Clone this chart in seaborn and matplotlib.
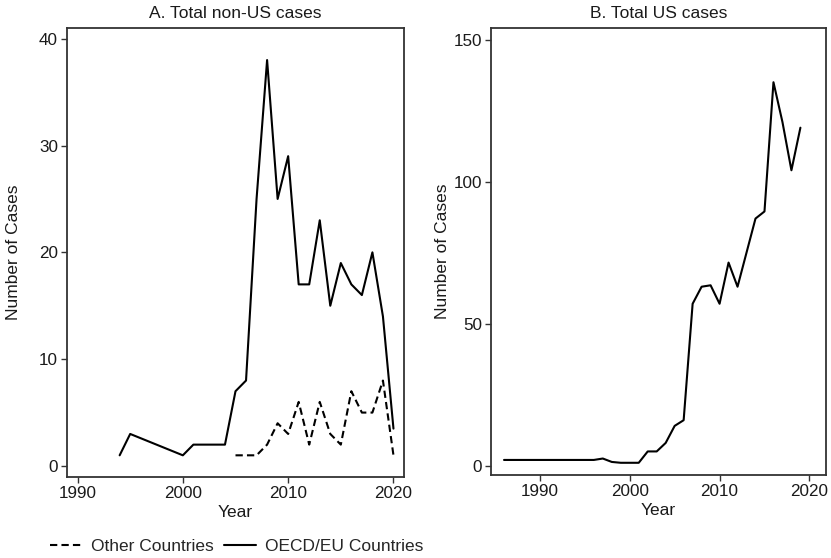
import matplotlib
matplotlib.use("Agg")
import matplotlib.pyplot as plt
import seaborn as sns
import pandas as pd
from matplotlib.lines import Line2D

# Non-US cases by year
oecd_years = [1994, 1995, 2000, 2001, 2002, 2003, 2004, 2005, 2006, 2007, 2008,
              2009, 2010, 2011, 2012, 2013, 2014, 2015, 2016, 2017, 2018, 2019, 2020]
oecd_cases = [1, 3, 1, 2, 2, 2, 2, 7, 8, 25, 38,
              25, 29, 17, 17, 23, 15, 19, 17, 16, 20, 14, 3.5]

other_years = [2005, 2006, 2007, 2008, 2009, 2010, 2011, 2012, 2013, 2014, 2015,
               2016, 2017, 2018, 2019, 2020]
other_cases = [1, 1, 1, 2, 4, 3, 6, 2, 6, 3, 2, 7, 5, 5, 8, 1]

# US cases by year
us_years = list(range(1986, 2020))
us_cases = [2, 2, 2, 2, 2, 2, 2, 2, 2, 2, 2, 2.5, 1.3, 1, 1, 1,
            5, 5, 8, 14, 16, 57, 63, 63.5, 57, 71.5, 63, 75, 87, 89.5,
            135, 121, 104, 119]

region_labels = ["Other Countries", "OECD/EU Countries"]
panel_titles = ["A. Total non-US cases", "B. Total US cases"]

nonus = pd.concat([
    pd.DataFrame({"Year": other_years, "Cases": other_cases, "Region": region_labels[0]}),
    pd.DataFrame({"Year": oecd_years, "Cases": oecd_cases, "Region": region_labels[1]}),
], ignore_index=True)
us = pd.DataFrame({"Year": us_years, "Cases": us_cases})

sns.set_theme(style="white")
plt.rcParams["font.family"] = ["Liberation Sans", "DejaVu Sans"]
plt.rcParams["font.size"] = 12

W, H = 831, 558
fig = plt.figure(figsize=(W / 100, H / 100), dpi=100)


def px_axes(left, top, right, bottom):
    return fig.add_axes([left / W, (H - bottom) / H, (right - left) / W, (bottom - top) / H])


axA = px_axes(67, 28, 404, 477)
axB = px_axes(491, 28, 826, 475)

line_w = 1.5
dash_pattern = (3.5, 2)
dash_map = {region_labels[0]: dash_pattern, region_labels[1]: ""}

sns.lineplot(data=nonus, x="Year", y="Cases", style="Region", dashes=dash_map,
             style_order=region_labels, color="black", linewidth=line_w,
             ax=axA, legend=False, estimator=None)
sns.lineplot(data=us, x="Year", y="Cases", color="black", linewidth=line_w,
             ax=axB, estimator=None)

axA.set_xlim(1989.0, 2021.0)
axA.set_ylim(-1.03, 41.0)
axA.set_xticks([1990, 2000, 2010, 2020])
axA.set_yticks([0, 10, 20, 30, 40])

axB.set_xlim(1984.55, 2021.85)
axB.set_ylim(-3.3, 154.1)
axB.set_xticks([1990, 2000, 2010, 2020])
axB.set_yticks([0, 50, 100, 150])

for ax, title, ylab_x in [(axA, panel_titles[0], -0.137), (axB, panel_titles[1], -0.121)]:
    ax.set_title(title, fontsize=12.5, color="#1a1a1a", pad=7)
    ax.set_xlabel("Year", fontsize=12.5, color="#1a1a1a")
    ax.set_ylabel("Number of Cases", fontsize=12.5, color="#1a1a1a")
    ax.yaxis.set_label_coords(ylab_x, 0.5)
    ax.xaxis.set_label_coords(0.5, -0.062)
    ax.tick_params(axis="both", which="major", direction="out", length=4, width=1.0,
                   color="#333333", labelsize=12.3, labelcolor="#1a1a1a", pad=2.5,
                   bottom=True, left=True)
    for s in ax.spines.values():
        s.set_color("#333333")
        s.set_linewidth(1.3)
    ax.grid(False)

handles = [Line2D([], [], color="black", linewidth=line_w, dashes=dash_pattern),
           Line2D([], [], color="black", linewidth=line_w)]
fig.legend(handles, region_labels, loc="center", ncol=2, frameon=False,
           bbox_to_anchor=(237 / W, (H - 546) / H), fontsize=12.5,
           handlelength=1.8, handletextpad=0.55, columnspacing=0.6)

fig.savefig("out.png", dpi=100)
